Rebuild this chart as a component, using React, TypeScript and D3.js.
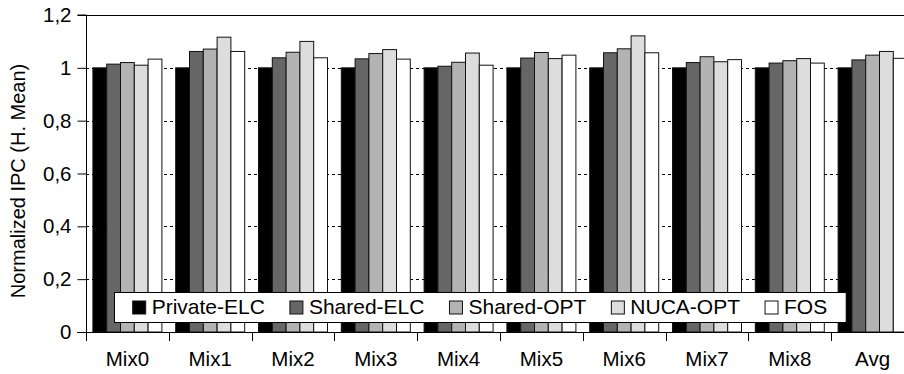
import React, { useEffect, useRef } from "react";
import * as d3 from "d3";

// categories and series
const mixes = ["Mix0", "Mix1", "Mix2", "Mix3", "Mix4", "Mix5", "Mix6", "Mix7", "Mix8", "Avg"];
const seriesNames = ["Private-ELC", "Shared-ELC", "Shared-OPT", "NUCA-OPT", "FOS"];
const privateElc = [1, 1, 1, 1, 1, 1, 1, 1, 1, 1];
const sharedElc = [1.014, 1.062, 1.038, 1.034, 1.006, 1.037, 1.057, 1.02, 1.018, 1.03];
const sharedOpt = [1.02, 1.071, 1.059, 1.054, 1.021, 1.058, 1.072, 1.042, 1.027, 1.048];
const nucaOpt = [1.01, 1.116, 1.1, 1.069, 1.056, 1.035, 1.121, 1.023, 1.035, 1.062];
const fos = [1.033, 1.062, 1.038, 1.033, 1.01, 1.048, 1.057, 1.031, 1.018, 1.036];
const yTicks = [0, 0.2, 0.4, 0.6, 0.8, 1, 1.2];

const fills = ["#000000", "#666666", "#b3b3b3", "#dddddd", "#ffffff"];
const font = "'Liberation Sans', Arial, sans-serif";

const App = () => {
  const svgRef = useRef<SVGSVGElement>(null);

  useEffect(() => {
    const svg = d3.select(svgRef.current);
    svg.selectAll("*").remove();

    const width = 904, height = 374;
    const left = 86, top = 15, bottom = 332, step = 82.8;

    const allSeries = [privateElc, sharedElc, sharedOpt, nucaOpt, fos];
    const rows = mixes.map((m, i) => ({ mix: m, vals: allSeries.map(s => s[i]) }));

    const x = d3.scaleBand()
      .domain(mixes)
      .range([left, left + step * mixes.length])
      .padding(0);

    const x1 = d3.scaleBand()
      .domain(seriesNames)
      .range([6.9, step - 6.9])
      .padding(0);

    const y = d3.scaleLinear().domain([0, 1.2]).range([bottom, top]);

    // grid
    svg.append("g")
      .selectAll("line")
      .data(yTicks.filter(t => t > 0))
      .join("line")
      .attr("x1", left)
      .attr("x2", width)
      .attr("y1", d => Math.round(y(d)) + 0.5)
      .attr("y2", d => Math.round(y(d)) + 0.5)
      .attr("stroke", "#000")
      .attr("stroke-width", 1)
      .attr("stroke-dasharray", d => (d === 1.2 ? null : "3,3"));

    // bars
    const groups = svg.append("g")
      .selectAll("g")
      .data(rows)
      .join("g")
      .attr("transform", d => `translate(${x(d.mix)},0)`);

    groups.selectAll("rect")
      .data(d => d.vals.map((v, k) => ({ name: seriesNames[k], v, k })))
      .join("rect")
      .attr("x", d => x1(d.name))
      .attr("y", d => y(d.v))
      .attr("width", x1.bandwidth())
      .attr("height", d => bottom - y(d.v))
      .attr("fill", d => fills[d.k])
      .attr("stroke", "#111")
      .attr("stroke-width", 1);

    // y axis
    const fmt = (d: number) => d3.format("~g")(d).replace(".", ",");
    const yAxis = svg.append("g")
      .attr("transform", `translate(${left + 0.5},0)`)
      .call(d3.axisLeft(y).tickValues(yTicks).tickSize(9).tickPadding(6).tickFormat(fmt as any));
    yAxis.select(".domain").attr("stroke", "#000").attr("d", `M-9,${top}H0V${bottom}`);
    yAxis.selectAll("text")
      .attr("font-family", font)
      .attr("font-size", 20.5)
      .attr("fill", "#000");

    // x axis
    const xAxis = svg.append("g");
    xAxis.append("line")
      .attr("x1", left - 9)
      .attr("x2", width)
      .attr("y1", bottom + 0.5)
      .attr("y2", bottom + 0.5)
      .attr("stroke", "#000");
    xAxis.selectAll("line.tick")
      .data(mixes.concat(["end"]))
      .join("line")
      .attr("class", "tick")
      .attr("x1", (d, i) => Math.round(left + i * x.step()) + 0.5)
      .attr("x2", (d, i) => Math.round(left + i * x.step()) + 0.5)
      .attr("y1", bottom)
      .attr("y2", bottom + 9)
      .attr("stroke", "#000");
    xAxis.selectAll("text")
      .data(mixes)
      .join("text")
      .attr("x", d => (x(d) as number) + x.bandwidth() / 2)
      .attr("y", 366)
      .attr("text-anchor", "middle")
      .attr("font-family", font)
      .attr("font-size", 20.5)
      .text(d => d);

    // y label
    svg.append("text")
      .attr("transform", `translate(25,181) rotate(-90)`)
      .attr("text-anchor", "middle")
      .attr("font-family", font)
      .attr("font-size", 20)
      .text("Normalized IPC (H. Mean)");

    // legend
    const legend = svg.append("g");
    const box = legend.append("rect")
      .attr("fill", "#fff")
      .attr("stroke", "#000")
      .attr("stroke-width", 1);
    let cx = 132.7;
    seriesNames.forEach((name, k) => {
      legend.append("rect")
        .attr("x", cx)
        .attr("y", 301)
        .attr("width", 13)
        .attr("height", 13)
        .attr("fill", fills[k])
        .attr("stroke", "#111");
      const t = legend.append("text")
        .attr("x", cx + 19)
        .attr("y", 314.3)
        .attr("font-family", font)
        .attr("font-size", 21)
        .text(name);
      const w = (t.node() as SVGTextElement).getComputedTextLength();
      cx += 19 + w + (k < seriesNames.length - 1 ? 25 : 19);
    });
    box.attr("x", 114.5).attr("y", 292.5).attr("width", cx - 114.5).attr("height", 30);
  }, []);

  return (
    <svg
      ref={svgRef}
      width={904}
      height={374}
      style={{ position: "absolute", left: 0, top: 0, background: "#fff" }}
    />
  );
};

export default App;
